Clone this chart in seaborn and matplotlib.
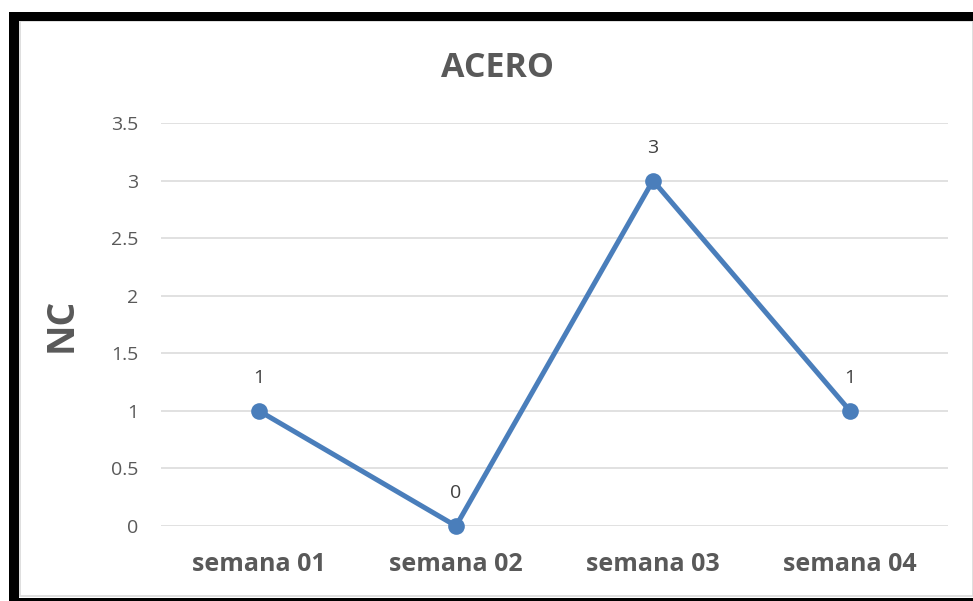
import matplotlib
matplotlib.use("Agg")
import matplotlib.pyplot as plt
from matplotlib.patches import Rectangle
import seaborn as sns
import pandas as pd

# Weekly non-conformity counts for steel
semanas = ["semana 01", "semana 02", "semana 03", "semana 04"]
nc_valores = [1, 0, 3, 1]
y_ticks = [0, 0.5, 1, 1.5, 2, 2.5, 3, 3.5]
y_tick_labels = ["0", "0.5", "1", "1.5", "2", "2.5", "3", "3.5"]

df = pd.DataFrame({"semana": semanas, "NC": nc_valores})

sns.set_theme(style="white")
plt.rcParams["font.family"] = ["Open Sans", "DejaVu Sans"]

W, H = 973, 601
fig = plt.figure(figsize=(W / 100, H / 100), dpi=100)
fig.patch.set_facecolor("white")

def px_box(x0, y0, x1, y1):
    return [x0 / W, 1 - y1 / H, (x1 - x0) / W, (y1 - y0) / H]

ax = fig.add_axes(px_box(160.5, 123, 948.5, 526))

line_color = "#4A7EBB"
sns.lineplot(data=df, x="semana", y="NC", ax=ax, color=line_color,
             linewidth=3.6, marker="o", markersize=12,
             markeredgewidth=0, sort=False, clip_on=False)

ax.set_xlim(-0.5, len(semanas) - 0.5)
ax.set_ylim(0, 3.5)
ax.set_yticks(y_ticks)
ax.set_yticklabels(y_tick_labels)
ax.yaxis.grid(True, color="#D9D9D9", linewidth=1.1)
ax.set_axisbelow(True)
for s in ax.spines.values():
    s.set_visible(False)
ax.tick_params(axis="both", length=0)
ax.tick_params(axis="y", labelsize=14, labelcolor="#595959", pad=16)
ax.tick_params(axis="x", labelsize=18, labelcolor="#595959", pad=19)
for t in ax.get_xticklabels():
    t.set_fontweight("bold")

ax.set_xlabel("")
ax.set_ylabel("NC", fontsize=27, fontweight="bold", color="#595959", labelpad=22)

# Value labels above each point
for i, v in enumerate(nc_valores):
    ax.annotate(f"{v}", (i, v), xytext=(0, 17), textcoords="offset points",
                ha="center", va="bottom", fontsize=14, color="#404040")

fig.text(497 / W, 1 - 68 / H, "ACERO", ha="center", va="center",
         fontsize=24.5, fontweight="bold", color="#595959")

# Frame around the chart
fig.patches.append(Rectangle((19.5 / W, 1 - 596 / H), (W - 19.5) / W, (596 - 21) / H,
                             transform=fig.transFigure, fill=False,
                             edgecolor="#D9D9D9", linewidth=1.2))
for box in [px_box(9, 12, W, 20.5), px_box(9, 12, 18.5, H), px_box(9, 597.5, W, H)]:
    fig.patches.append(Rectangle((box[0], box[1]), box[2], box[3],
                                 transform=fig.transFigure, color="black", linewidth=0))

fig.savefig("out.png", dpi=100)
